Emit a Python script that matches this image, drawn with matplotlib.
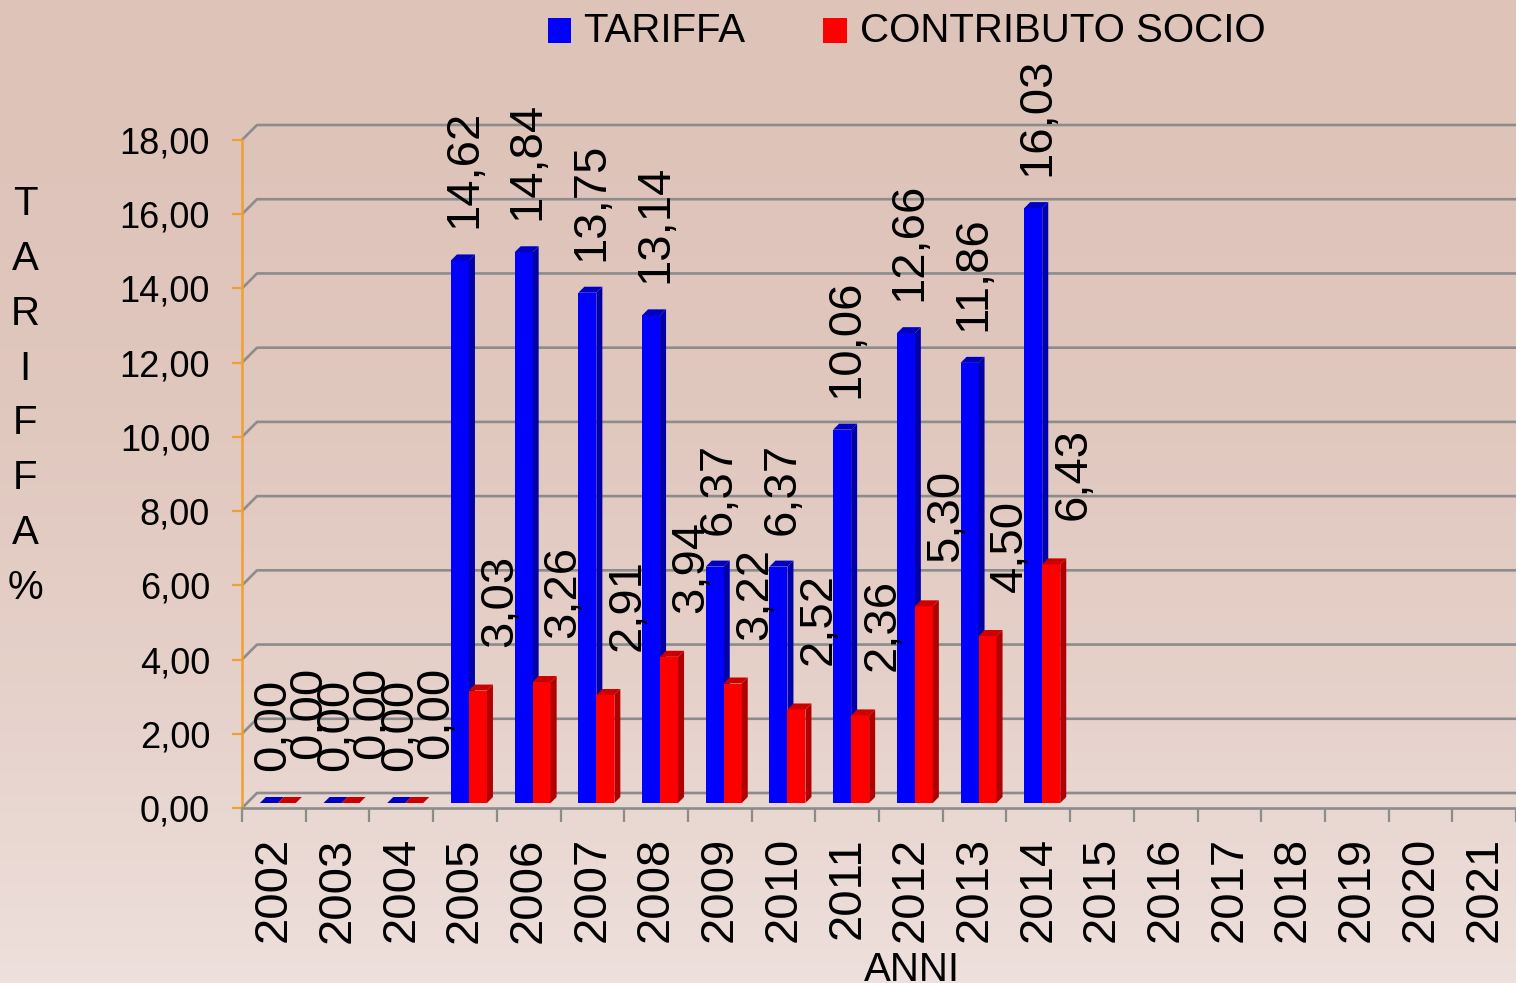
import matplotlib
matplotlib.use('Agg')
import matplotlib.pyplot as plt
import numpy as np
from matplotlib.patches import Polygon, Rectangle
from matplotlib.transforms import ScaledTranslation

plt.rcParams['font.family'] = ['Liberation Sans', 'DejaVu Sans']

# dati
anni = [str(a) for a in range(2002, 2022)]
tariffa = [0.00, 0.00, 0.00, 14.62, 14.84, 13.75, 13.14, 6.37, 6.37, 10.06, 12.66, 11.86, 16.03]
contributo = [0.00, 0.00, 0.00, 3.03, 3.26, 2.91, 3.94, 3.22, 2.52, 2.36, 5.30, 4.50, 6.43]
y_ticks = [0, 2, 4, 6, 8, 10, 12, 14, 16, 18]
serie = ['TARIFFA', 'CONTRIBUTO SOCIO']

def fmt(v):
    return f"{v:.2f}".replace('.', ',')

W, H = 1516, 983
fig = plt.figure(figsize=(W / 100, H / 100), dpi=100)

# sfondo sfumato
bg = fig.add_axes([0, 0, 1, 1], zorder=-10)
c_top = np.array([222, 195, 185]) / 255
c_bot = np.array([238, 224, 220]) / 255
t = np.linspace(0, 1, 256) ** 2
grad = c_top[None, :] * (1 - t[:, None]) + c_bot[None, :] * t[:, None]
bg.imshow(grad[:, None, :], aspect='auto', extent=[0, 1, 0, 1], origin='upper')
bg.axis('off')

# assi principali (piano frontale)
x0, y_bot, y_top = 242, 808, 140
ax = fig.add_axes([x0 / W, (H - y_bot) / H, (W - x0) / W, (y_bot - y_top) / H])
ax.patch.set_alpha(0)
n = len(anni)
ax.set_xlim(-0.5, n - 0.5)
ax.set_ylim(0, 18)

px_x = (W - x0) / n
px_y = (y_bot - y_top) / 18.0

# effetto 3D: parete di fondo e profondita barre
gx, gy = 15 / px_x, 15 / px_y
ox, oy = 4 / px_x, 5 / px_y
dx, dy = 6 / px_x, 6 / px_y
w = 18 / px_x

grid_col = '#8C8C8C'
for v in y_ticks:
    ax.plot([-0.5, -0.5 + gx, n - 0.5], [v, v + gy, v + gy], color=grid_col,
            lw=1.9, clip_on=False, zorder=1, solid_capstyle='butt')

def bar3d(left, val, front, side, top):
    ax.bar(left, val, width=w, bottom=oy, align='edge', color=front, zorder=3,
           linewidth=0)
    r = left + w
    ax.add_patch(Polygon([(r, oy), (r, val + oy), (r + dx, val + oy + dy), (r + dx, oy + dy)],
                         closed=True, facecolor=side, edgecolor='none', zorder=3))
    ax.add_patch(Polygon([(left, val + oy), (r, val + oy), (r + dx, val + oy + dy),
                          (left + dx, val + oy + dy)],
                         closed=True, facecolor=top, edgecolor='none', zorder=3))

for i, (b, r) in enumerate(zip(tariffa, contributo)):
    bl = i + ox - w
    bar3d(bl, b, '#0000FF', '#0000A8', '#0000C0')
    bar3d(i + ox, r, '#FF0000', '#B00000', '#CC0000')

# etichette dati
off_b = ScaledTranslation(4 / 100, 32 / 100, fig.dpi_scale_trans)
off_r = ScaledTranslation(22 / 100, 44 / 100, fig.dpi_scale_trans)
for i, (b, r) in enumerate(zip(tariffa, contributo)):
    ax.text(i + ox - w / 2, b + oy, fmt(b), rotation=90, ha='center', va='bottom',
            fontsize=34, transform=ax.transData + off_b, zorder=5, clip_on=False)
    ax.text(i + ox + w / 2, r + oy, fmt(r), rotation=90, ha='center', va='bottom',
            fontsize=34, transform=ax.transData + off_r, zorder=5, clip_on=False)

# assi
for s in ['top', 'right']:
    ax.spines[s].set_visible(False)
ax.spines['bottom'].set_color(grid_col)
ax.spines['bottom'].set_linewidth(1.9)
ax.spines['left'].set_color('#F0A030')
ax.spines['left'].set_linewidth(1.8)

ax.set_xticks(range(n))
ax.set_xticklabels(anni, rotation=90, fontsize=34)
ax.set_xticks(np.arange(-0.5, n, 1), minor=True)
ax.tick_params(axis='x', which='major', length=0, pad=21)
ax.tick_params(axis='x', which='minor', length=10, width=1.6, color=grid_col)

ax.set_yticks(y_ticks)
ax.set_yticklabels([fmt(v) for v in y_ticks], fontsize=26)
ax.tick_params(axis='y', length=7, width=1.6, color='#F0A030', pad=16)

# titolo asse y (lettere impilate)
fig.text(25 / W, 1 - 396 / H, '\n'.join('TARIFFA%'), ha='center', va='center',
         fontsize=29, linespacing=1.56)

# titolo asse x
fig.text(912 / W, 1 - 951 / H, 'ANNI', ha='center', va='top', fontsize=29)

# legenda
fig.add_artist(Rectangle((548 / W, 1 - 43 / H), 23 / W, 25 / H, transform=fig.transFigure,
                         facecolor='#0000FF', edgecolor='none'))
fig.text(583 / W, 1 - 31 / H, serie[0], ha='left', va='center', fontsize=29)
fig.add_artist(Rectangle((823 / W, 1 - 43 / H), 24 / W, 25 / H, transform=fig.transFigure,
                         facecolor='#FF0000', edgecolor='none'))
fig.text(860 / W, 1 - 31 / H, serie[1], ha='left', va='center', fontsize=29)

fig.savefig('out.png', dpi=100)
